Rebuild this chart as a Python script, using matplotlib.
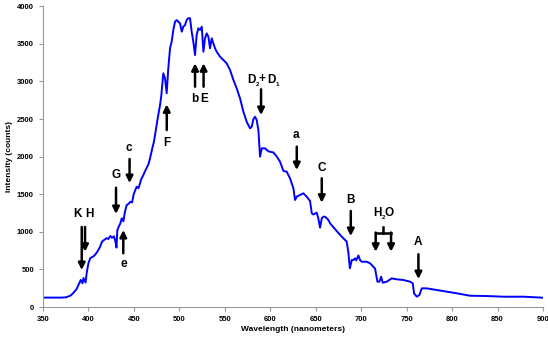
import numpy as np
import matplotlib.pyplot as plt

plt.rcParams['font.family'] = ['Liberation Sans', 'DejaVu Sans']

# spectrum
wavelength = [350, 360, 370, 375, 380, 383, 387, 390, 391.5, 393.4, 394.5, 396.8, 398, 400, 402,
              405, 407, 410, 412.7, 415, 417, 420, 422, 424, 426, 428, 429.5, 430.8, 431.7, 433,
              435, 436.6, 438.4, 440, 442, 444, 446, 448, 449.5, 451, 453, 455, 456.7, 458, 460.4,
              462, 464, 466, 467.7, 470, 472, 473.2, 476, 478.7, 480, 482.3, 484.2, 486, 487.8,
              489.7, 491.5, 493.3, 495.2, 497, 498.8, 500.7, 502.6, 504.3, 506.2, 508, 509.8,
              511.7, 513.5, 515.3, 517.2, 519, 520.8, 522.7, 524.6, 526.4, 528.2, 530, 531.9,
              533.7, 535.6, 537.3, 539.2, 541, 544.7, 548.3, 552, 555.7, 559.4, 563, 566.7, 570.3,
              574, 577.7, 579.6, 581.4, 583.2, 585, 586.9, 588.7, 590.6, 594.2, 597.9, 603.4,
              607.1, 610.7, 614.4, 618, 621.7, 625.4, 627.2, 629, 632.7, 636.3, 640, 643.7, 645.6,
              647.3, 651, 652.8, 654.7, 656.6, 658.3, 660.2, 663.9, 665.7, 673, 678.6, 684, 685.9,
              687.5, 689.6, 691.4, 693.2, 694.5, 696.9, 698.7, 700.6, 702.4, 706.1, 709.7, 711.6,
              715.2, 717.8, 720, 721.9, 723.7, 728.1, 733.6, 739.1, 746.4, 753.7, 756.7, 758.1,
              761.1, 764, 766.6, 772.1, 783.1, 794.1, 805.1, 819.7, 838.1, 856.4, 878.4, 898.6, 900]
intensity = [125, 125, 125, 128, 150, 182, 240, 320, 360, 315, 385, 325, 450, 585, 650,
             670, 690, 740, 800, 870, 890, 915, 905, 945, 920, 940, 880, 790, 1020, 1060,
             1110, 1180, 1140, 1260, 1355, 1370, 1400, 1390, 1490, 1540, 1600, 1580, 1645, 1700, 1755,
             1800, 1850, 1900, 1977, 2100, 2200, 2287, 2500, 2686, 2800, 3108, 3041, 2842, 3174,
             3440, 3528, 3683, 3794, 3816, 3794, 3772, 3661, 3727, 3750, 3816, 3840,
             3840, 3660, 3528, 3351, 3617, 3706, 3683, 3727, 3395, 3573, 3639, 3594,
             3440, 3573, 3506, 3440, 3395, 3329, 3285, 3240, 3152, 3019, 2908, 2775, 2600,
             2464, 2376, 2398, 2500, 2530, 2487, 2350, 1999, 2110, 2110, 2070, 2055,
             2000, 1932, 1810, 1799, 1711, 1578, 1423, 1467, 1489, 1512, 1467, 1410, 1246,
             1230, 1255, 1179, 1055, 1179, 1201, 1201, 1157, 1113, 1010, 935, 870, 720,
             515, 625, 625, 648, 620, 685, 625, 602, 602, 602, 581, 558,
             510, 337, 337, 403, 323, 337, 381, 368, 359, 337, 315, 182,
             137, 160, 248, 248, 226, 204, 182, 150, 146, 137, 137, 124, 124]

# absorption line markers: label, label x, label y, arrow x, arrow start y, arrow end y
line_labels = ['K', 'H', 'G', 'e', 'c', 'F', 'b', 'E', 'a', 'C', 'B', 'A']
label_x = [388.2, 400.9, 430.3, 439.1, 444.9, 486.4, 517.2, 527.1, 628.7, 656.6, 688.5, 762.9]
label_y = [1237, 1237, 1755, 572, 2114, 2181, 2762, 2762, 2287, 1852, 1423, 860]
arrow_x = [392.6, 396.2, 430.3, 438.3, 445.2, 486.1, 517.2, 526.6, 589.8, 629.1, 656.6, 688.5, 762.9]
arrow_from = [1064, 1064, 1586, 714, 1968, 2354, 2929, 2929, 2895, 2132, 1711, 1277, 701]
arrow_to = [492, 735, 1237, 1024, 1649, 2695, 3241, 3241, 2553, 1822, 1387, 944, 372]

fig = plt.figure(figsize=(5.48, 3.37), dpi=100)
ax = fig.add_axes([0.0785, 0.089, 0.9125, 0.8926])

ax.plot(wavelength, intensity, color='#0000ff', lw=1.4)

big = dict(ha='center', va='center', fontsize=8.5, fontweight='bold')
small = dict(ha='center', va='center', fontsize=4.5, fontweight='bold')
for lab, lx, ly in zip(line_labels, label_x, label_y):
    ax.text(lx, ly, lab, **big)

arrow_kw = dict(arrowstyle='-|>', color='black', lw=1.8, mutation_scale=10, shrinkA=0, shrinkB=0)
for axx, y0, y1 in zip(arrow_x, arrow_from, arrow_to):
    ax.annotate('', xy=(axx, y1), xytext=(axx, y0), arrowprops=arrow_kw)

# sodium doublet label with small subscripts
ax.text(579.6, 3019, 'D', **big)
ax.text(586.2, 2960, '2', **small)
ax.text(591.2, 3030, '+', **big)
ax.text(601.4, 3019, 'D', **big)
ax.text(608.0, 2960, '1', **small)

# water band bracket
ax.text(717.4, 1246, 'H', **big)
ax.text(724.4, 1190, '2', **small)
ax.text(730.8, 1246, 'O', **big)
ax.plot([724.4, 724.4], [1068, 980], color='black', lw=1.8)
ax.plot([715.9, 732.8], [980, 980], color='black', lw=1.8)
for bx in [715.9, 732.8]:
    ax.annotate('', xy=(bx, 735), xytext=(bx, 990), arrowprops=arrow_kw)

ax.set_xlim(350, 900)
ax.set_ylim(0, 4000)
ax.set_xticks(np.arange(350, 901, 50))
ax.set_yticks(np.arange(0, 4001, 500))
for s in ['top', 'right']:
    ax.spines[s].set_visible(False)
for s in ['left', 'bottom']:
    ax.spines[s].set_color('#999999')
ax.tick_params(colors='#999999', labelcolor='black', labelsize=5.5, length=3)
for t in ax.get_xticklabels() + ax.get_yticklabels():
    t.set_fontweight('bold')

ax.set_xlabel('Wavelength (nanometers)', fontsize=6, fontweight='bold', labelpad=2)
ax.set_ylabel('Intensity (counts)', fontsize=6, fontweight='bold', labelpad=3)

fig.savefig('out.png', dpi=100)
